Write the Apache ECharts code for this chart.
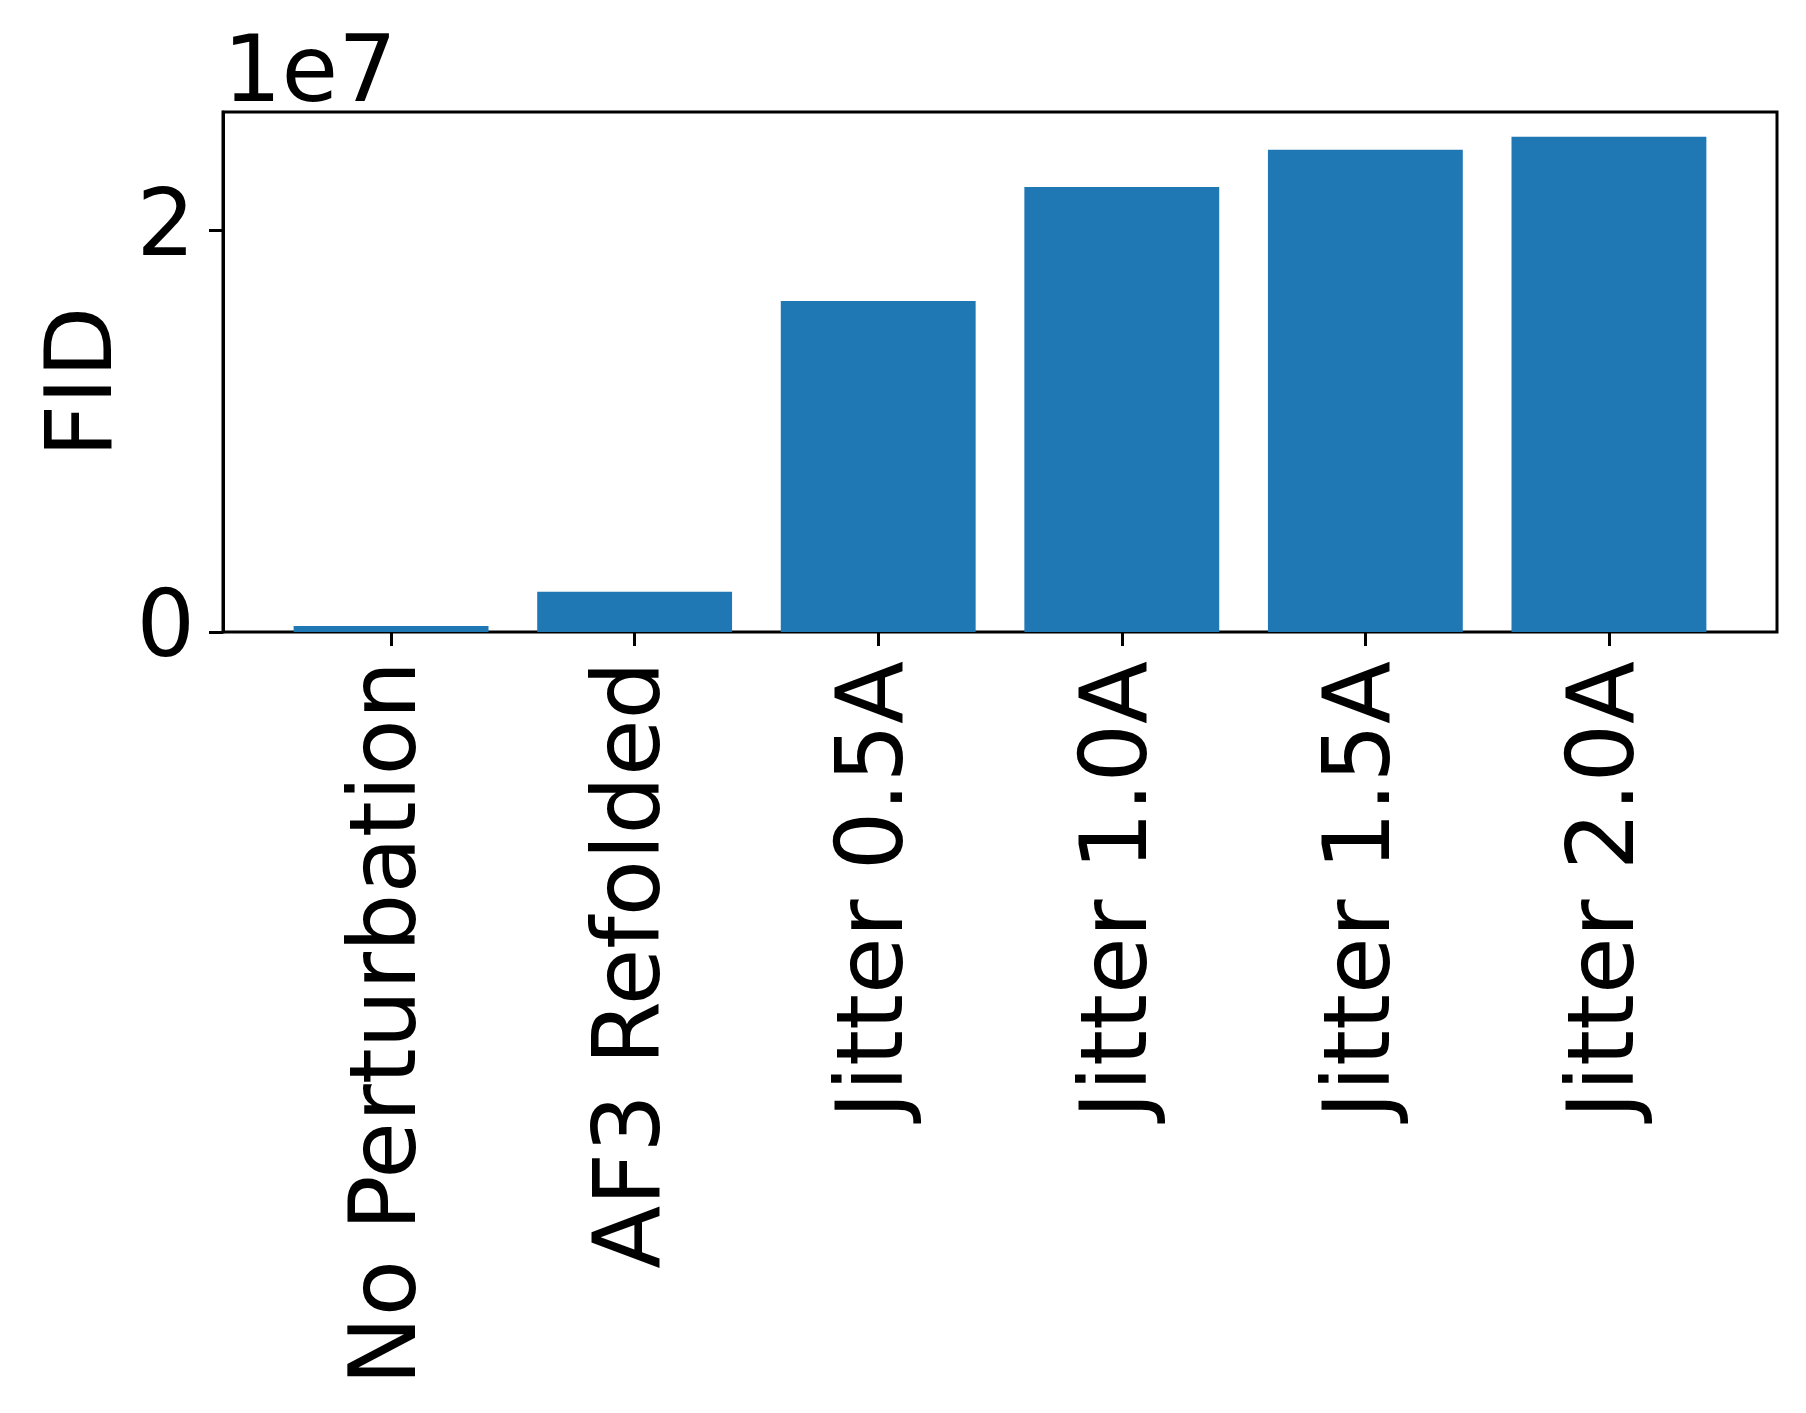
<!DOCTYPE html>
<html>
<head>
<meta charset="utf-8">
<script src="https://cdn.jsdelivr.net/npm/echarts@6/dist/echarts.min.js"></script>
<style>
  html, body { margin: 0; padding: 0; background: #ffffff; }
  #chart { width: 1806px; height: 1413px; }
</style>
</head>
<body>
<div id="chart"></div>
<script>
// ---- data ----
const categories = ['No Perturbation', 'AF3 Refolded', 'Jitter 0.5A', 'Jitter 1.0A', 'Jitter 1.5A', 'Jitter 2.0A'];
const fidValues = [3.0e5, 2.0e6, 1.649e7, 2.218e7, 2.403e7, 2.468e7];
const yTickStep = 2e7;
const yScaleFactor = 1e7;
const offsetLabel = '1e7';
const yAxisName = 'FID';

// ---- layout (matplotlib-like axes box) ----
const FONT = 'DejaVu Sans';
const FS = 92;
const boxLeft = 223, boxTop = 112, boxRight = 1777, boxBottom = 632;
const boxW = boxRight - boxLeft, boxH = boxBottom - boxTop;
const barWidthFrac = 0.8;
// matplotlib x-limits: data span [-0.4, n-0.6] plus 5% margins
const n = categories.length;
const span = (n - 1) + barWidthFrac;
const xMargin = span * 0.05;
const xTotal = span + 2 * xMargin;
const ppu = boxW / xTotal;
const catLeft = boxLeft + (xMargin + barWidthFrac / 2 - 0.5) * ppu;
const catWidth = n * ppu;
const yMax = Math.max(...fidValues) * 1.05;

const chart = echarts.init(document.getElementById('chart'));
chart.setOption({
  animation: false,
  backgroundColor: '#ffffff',
  textStyle: { fontFamily: FONT },
  grid: [
    { left: boxLeft, top: boxTop, width: boxW, height: boxH, show: true,
      borderColor: '#000', borderWidth: 3, backgroundColor: 'transparent', containLabel: false },
    { left: catLeft, top: boxTop, width: catWidth, height: boxH, containLabel: false }
  ],
  xAxis: [
    { type: 'value', gridIndex: 0, show: false, min: 0, max: 1 },
    { type: 'category', gridIndex: 1, data: categories,
      axisLine: { show: false },
      axisTick: { show: true, alignWithLabel: true, length: 14, lineStyle: { color: '#000', width: 3 } },
      axisLabel: { rotate: 90, margin: 29, color: '#000', fontSize: FS, fontFamily: FONT, interval: 0 },
      splitLine: { show: false } }
  ],
  yAxis: [
    { type: 'value', gridIndex: 0, min: 0, max: yMax, interval: yTickStep,
      name: yAxisName, nameLocation: 'middle', nameGap: 90, nameMoveOverlap: false,
      nameTextStyle: { color: '#000', fontSize: FS, fontFamily: FONT, padding: [0, 20, 0, 0] },
      axisLine: { show: true, lineStyle: { color: '#000', width: 3 } },
      axisTick: { show: true, length: 14, lineStyle: { color: '#000', width: 3 } },
      axisLabel: { margin: 28, color: '#000', fontSize: FS, fontFamily: FONT,
        formatter: v => (v / yScaleFactor).toString(), showMaxLabel: false },
      splitLine: { show: false } },
    { type: 'value', gridIndex: 1, min: 0, max: yMax, show: false, splitLine: { show: false } }
  ],
  graphic: [
    { type: 'text', left: boxLeft, top: 31,
      style: { text: offsetLabel, fill: '#000', font: FS + 'px "' + FONT + '"' } }
  ],
  series: [
    { type: 'bar', xAxisIndex: 1, yAxisIndex: 1, data: fidValues,
      barWidth: (barWidthFrac * 100) + '%', itemStyle: { color: '#1f77b4' } }
  ]
});
</script>
</body>
</html>
